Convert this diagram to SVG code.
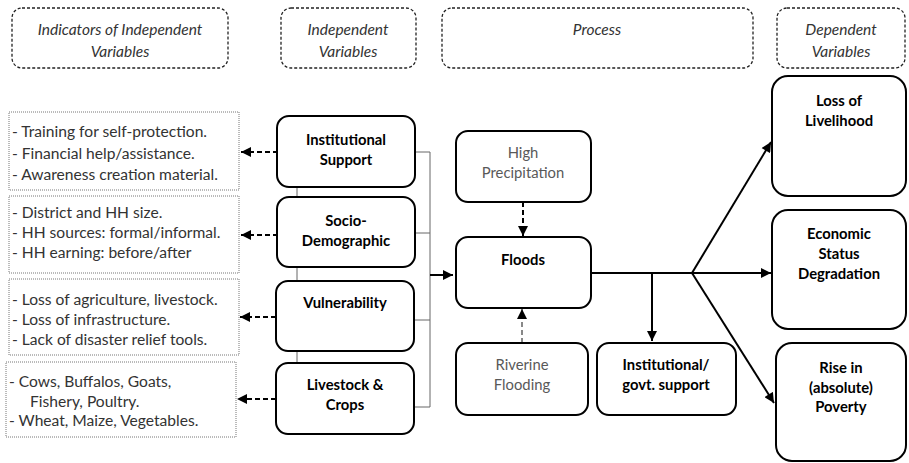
<svg xmlns="http://www.w3.org/2000/svg" width="909" height="463" viewBox="0 0 909 463">
<style>
.hdr{fill:#fff;stroke:#222;stroke-width:1.3;stroke-dasharray:3 2}
.ht{font-family:Lato,"Liberation Sans",sans-serif;font-style:italic;font-size:15.5px;fill:#333;text-anchor:middle}
.ind{fill:#fff;stroke:#777;stroke-width:1;stroke-dasharray:1 1}
.it{font-family:Lato,"Liberation Sans",sans-serif;font-size:15.6px;fill:#333}
.nd{fill:#fff;stroke:#000;stroke-width:2}
.nt{font-family:Lato,"Liberation Sans",sans-serif;font-weight:bold;font-size:14.8px;fill:#000;text-anchor:middle}
.gt{font-family:Lato,"Liberation Sans",sans-serif;font-size:14.8px;fill:#595959;text-anchor:middle}
.thin{stroke:#666;stroke-width:1;fill:none}
.solid{stroke:#000;stroke-width:2;fill:none}
.dash{stroke:#000;stroke-width:2;fill:none;stroke-dasharray:5 3}
.gdash{stroke:#888;stroke-width:2;fill:none;stroke-dasharray:5 3}
</style>
<defs>
<marker id="ah" viewBox="0 0 10 10" refX="10" refY="5" markerWidth="5.5" markerHeight="5" orient="auto" markerUnits="strokeWidth"><path d="M0,0L10,5L0,10z" fill="#000"/></marker>
</defs>
<g id="headers">
<g id="h1"><rect class="hdr" x="12" y="8" width="216" height="60" rx="10"/><text class="ht" x="120" y="35">Indicators of Independent</text><text class="ht" x="120" y="57">Variables</text></g>
<g id="h2"><rect class="hdr" x="281" y="8" width="135" height="60" rx="10"/><text class="ht" x="348" y="35">Independent</text><text class="ht" x="348" y="57">Variables</text></g>
<g id="h3"><rect class="hdr" x="442" y="8" width="311" height="60" rx="10"/><text class="ht" x="597" y="35">Process</text></g>
<g id="h4"><rect class="hdr" x="777" y="8" width="128" height="60" rx="10"/><text class="ht" x="841" y="35">Dependent</text><text class="ht" x="841" y="57">Variables</text></g>
</g>
<g id="ind1"><rect class="ind" x="9" y="112" width="230" height="78"/><text class="it" x="12" y="137">- Training for self-protection.</text><text class="it" x="12" y="159">- Financial help/assistance.</text><text class="it" x="12" y="180">- Awareness creation material.</text></g>
<g id="ind2"><rect class="ind" x="9" y="196" width="230" height="77"/><text class="it" x="12" y="218">- District and HH size.</text><text class="it" x="12" y="238">- HH sources: formal/informal.</text><text class="it" x="12" y="258">- HH earning: before/after</text></g>
<g id="ind3"><rect class="ind" x="9" y="279" width="230" height="76"/><text class="it" x="12" y="305">- Loss of agriculture, livestock.</text><text class="it" x="12" y="325">- Loss of infrastructure.</text><text class="it" x="12" y="345">- Lack of disaster relief tools.</text></g>
<g id="ind4"><rect class="ind" x="6" y="362" width="230" height="75"/><text class="it" x="9" y="387">- Cows, Buffalos, Goats,</text><text class="it" x="30" y="407">Fishery, Poultry.</text><text class="it" x="9" y="426">- Wheat, Maize, Vegetables.</text></g>
<g id="connectors">
<path class="thin" d="M297,187V197M297,267V281M297,351V363"/>
<path class="thin" d="M415,152H430M415,233H430M414,320H430M414,407H430M430,152V407"/>
<path class="solid" d="M430,275H453" marker-end="url(#ah)"/>
<path class="dash" d="M278,152H241" marker-end="url(#ah)"/>
<path class="dash" d="M278,235H241" marker-end="url(#ah)"/>
<path class="dash" d="M276,317H240" marker-end="url(#ah)"/>
<path class="dash" d="M276,399H237" marker-end="url(#ah)"/>
<path class="dash" d="M523,202V236" marker-end="url(#ah)"/>
<path class="gdash" d="M522,343V309" marker-end="url(#ah)"/>
<path class="solid" d="M591,273H692"/>
<path class="solid" d="M652,273V341" marker-end="url(#ah)"/>
<path class="solid" d="M692,273H771" marker-end="url(#ah)"/>
<path class="solid" d="M692,273L771,142" marker-end="url(#ah)"/>
<path class="solid" d="M692,273L774,403" marker-end="url(#ah)"/>
</g>
<g id="n-inst"><rect class="nd" x="277" y="116" width="138" height="71" rx="12"/><text class="nt" x="346" y="145">Institutional</text><text class="nt" x="346" y="165">Support</text></g>
<g id="n-socio"><rect class="nd" x="277" y="197" width="138" height="70" rx="12"/><text class="nt" x="346" y="226">Socio-</text><text class="nt" x="346" y="246">Demographic</text></g>
<g id="n-vuln"><rect class="nd" x="276" y="281" width="138" height="70" rx="12"/><text class="nt" x="345" y="308">Vulnerability</text></g>
<g id="n-live"><rect class="nd" x="276" y="363" width="138" height="71" rx="12"/><text class="nt" x="345" y="390">Livestock &amp;</text><text class="nt" x="345" y="410">Crops</text></g>
<g id="n-precip"><rect class="nd" x="456" y="131" width="135" height="71" rx="12"/><text class="gt" x="523" y="158">High</text><text class="gt" x="523" y="178">Precipitation</text></g>
<g id="n-floods"><rect class="nd" x="456" y="237" width="135" height="71" rx="12"/><text class="nt" x="523" y="265">Floods</text></g>
<g id="n-river"><rect class="nd" x="456" y="343" width="132" height="72" rx="12"/><text class="gt" x="522" y="370">Riverine</text><text class="gt" x="522" y="390">Flooding</text></g>
<g id="n-govt"><rect class="nd" x="597" y="343" width="139" height="72" rx="12"/><text class="nt" x="666" y="370">Institutional/</text><text class="nt" x="666" y="390">govt. support</text></g>
<g id="n-loss"><rect class="nd" x="772" y="76" width="134" height="120" rx="16"/><text class="nt" x="839" y="106">Loss of</text><text class="nt" x="839" y="126">Livelihood</text></g>
<g id="n-econ"><rect class="nd" x="772" y="210" width="134" height="119" rx="16"/><text class="nt" x="839" y="239">Economic</text><text class="nt" x="839" y="259">Status</text><text class="nt" x="839" y="279">Degradation</text></g>
<g id="n-pov"><rect class="nd" x="776" y="343" width="130" height="118" rx="16"/><text class="nt" x="841" y="373">Rise in</text><text class="nt" x="841" y="393">(absolute)</text><text class="nt" x="841" y="412">Poverty</text></g>
</svg>
